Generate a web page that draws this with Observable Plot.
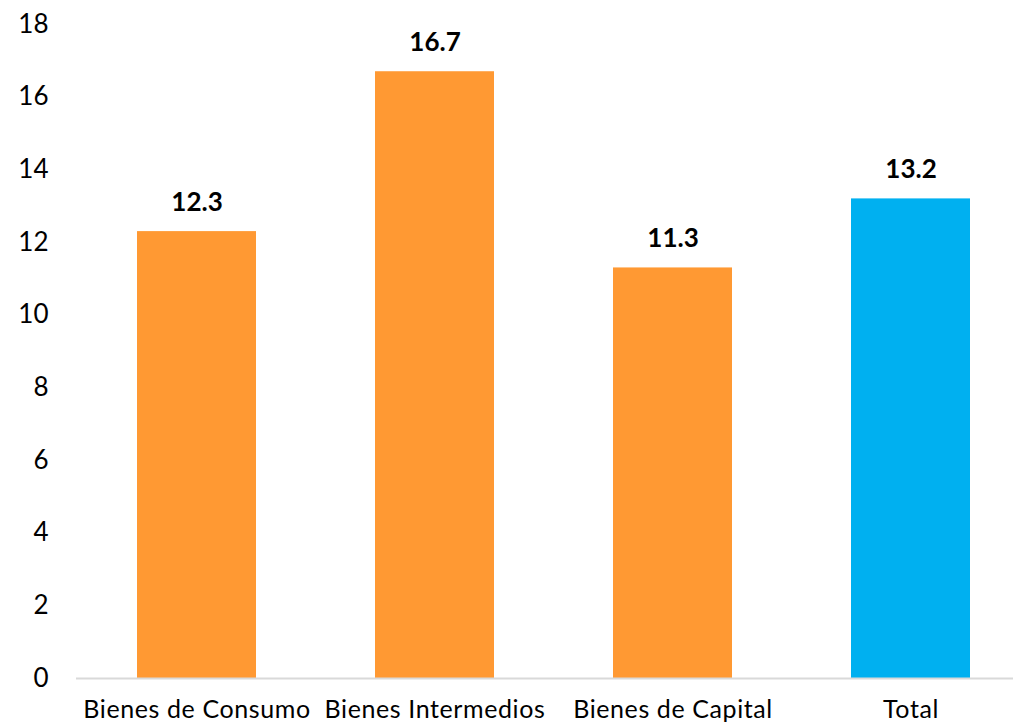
<!DOCTYPE html>
<html>
<head>
<meta charset="utf-8">
<script src="https://cdn.jsdelivr.net/npm/d3@7"></script>
<script src="https://cdn.jsdelivr.net/npm/@observablehq/plot@0.6"></script>
<style>
  html, body { margin: 0; padding: 0; background: #fff; }
  svg { display: block; }
  .xax text { letter-spacing: 0.6px; }
</style>
</head>
<body>
<div id="chart"></div>
<script>
const categories = ["Bienes de Consumo", "Bienes Intermedios", "Bienes de Capital", "Total"];
const values = [12.3, 16.7, 11.3, 13.2];
const barColors = ["#FF9933", "#FF9933", "#FF9933", "#00B0F0"];
const yTicks = [0, 2, 4, 6, 8, 10, 12, 14, 16, 18];

const data = categories.map((c, i) => ({category: c, value: values[i], color: barColors[i]}));

const chart = Plot.plot({
  width: 1013,
  height: 727,
  marginTop: 24,
  marginBottom: 49,
  marginLeft: 76,
  marginRight: 0,
  style: {fontFamily: "Lato, 'Open Sans', sans-serif", fontSize: "26px", color: "#000", background: "#fff"},
  x: {domain: categories, range: [76, 1030], paddingInner: 0.5, paddingOuter: 0.25, label: null},
  y: {domain: [0, 18], label: null},
  marks: [
    Plot.barY(data, {x: "category", y: "value", fill: "color"}),
    Plot.ruleY([0], {stroke: "#d9d9d9", strokeWidth: 2}),
    Plot.text(data, {x: "category", y: "value", text: d => d.value.toFixed(1), dy: -29, fontWeight: "bold", fontSize: 26, fill: "#000"}),
    Plot.axisY({ticks: yTicks, tickSize: 0, tickPadding: 28, tickFormat: d => String(d), fontSize: 26, label: null}),
    Plot.axisX({tickSize: 0, tickPadding: 22, fontSize: 25, label: null, className: "xax"})
  ]
});
document.getElementById("chart").appendChild(chart);
</script>
</body>
</html>
